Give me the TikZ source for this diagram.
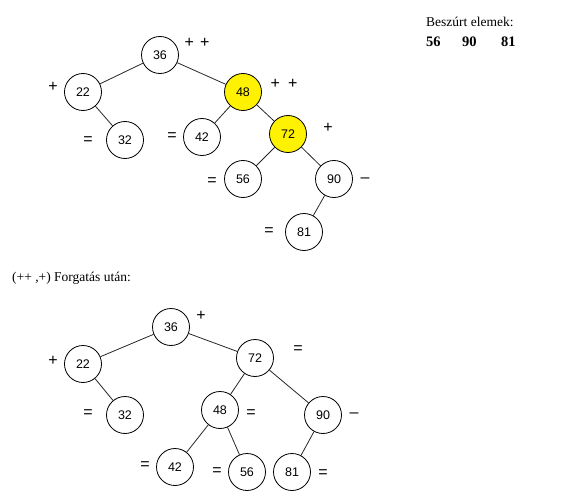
\documentclass[tikz,border=0pt]{standalone}
\usepackage{fontspec}
\setmainfont{Liberation Serif}
\newfontfamily\nodefont{Liberation Sans}
\begin{document}
\begin{tikzpicture}[x=1pt,y=-1pt,
  nd/.style={circle,draw=black,line width=0.8pt,minimum size=37pt,inner sep=0pt,fill=white,font=\nodefont\fontsize{12.5}{13}\selectfont},
  hl/.style={nd,fill=yellow},
  lbl/.style={inner sep=0pt,font=\nodefont\fontsize{16}{17}\selectfont},
  edge/.style={line width=0.8pt,draw=black!85}]
\useasboundingbox (0,0) rectangle (579,503);
% top tree
\node[nd] (a36) at (160,55) {36};
\node[nd] (a22) at (83,92) {22};
\node[hl] (a48) at (243,92) {48};
\node[nd] (a32) at (125,140) {32};
\node[nd] (a42) at (202,137) {42};
\node[hl] (a72) at (288,134) {72};
\node[nd] (a56) at (243,179) {56};
\node[nd] (a90) at (334,179) {90};
\node[nd] (a81) at (304,232) {81};
\draw[edge] (a36) -- (a22);
\draw[edge] (a36) -- (a48);
\draw[edge] (a22) -- (a32);
\draw[edge] (a48) -- (a42);
\draw[edge] (a48) -- (a72);
\draw[edge] (a72) -- (a56);
\draw[edge] (a72) -- (a90);
\draw[edge] (a90) -- (a81);
\node[lbl] (la36) at (197,43) {+\hspace{6pt}+};
\node[lbl] (la22) at (53,87) {+};
\node[lbl] (la48) at (284,84) {+\hspace{8pt}+};
\node[lbl] (la32) at (88,141) {=};
\node[lbl] (la42) at (172,137) {=};
\node[lbl] (la72) at (328,128) {+};
\node[lbl] (la56) at (212,182) {=};
\node[lbl] (la90) at (365,180) {–};
\node[lbl] (la81) at (269,232) {=};
% inserted
\node[anchor=west,inner sep=0pt,font=\fontsize{13.5}{15}\selectfont] (ins) at (426,22) {Beszúrt elemek:};
\node[anchor=west,inner sep=0pt,font=\bfseries\fontsize{14.5}{16}\selectfont] (i56) at (426,42) {56};
\node[anchor=west,inner sep=0pt,font=\bfseries\fontsize{14.5}{16}\selectfont] (i90) at (462,42) {90};
\node[anchor=west,inner sep=0pt,font=\bfseries\fontsize{14.5}{16}\selectfont] (i81) at (501,42) {81};
\node[anchor=west,inner sep=0pt,font=\fontsize{13.5}{15}\selectfont] (cap) at (12,278) {(++ ,+) Forgatás után:};
% bottom tree
\node[nd] (b36) at (171,327) {36};
\node[nd] (b22) at (83,364) {22};
\node[nd] (b72) at (255,358) {72};
\node[nd] (b32) at (125,415) {32};
\node[nd] (b48) at (220,410) {48};
\node[nd] (b90) at (323,415) {90};
\node[nd] (b42) at (175,467) {42};
\node[nd] (b56) at (247,472) {56};
\node[nd] (b81) at (292,472) {81};
\draw[edge] (b36) -- (b22);
\draw[edge] (b36) -- (b72);
\draw[edge] (b22) -- (b32);
\draw[edge] (b72) -- (b48);
\draw[edge] (b72) -- (b90);
\draw[edge] (b48) -- (b42);
\draw[edge] (b48) -- (b56);
\draw[edge] (b90) -- (b81);
\node[lbl] (lb36) at (201,316) {+};
\node[lbl] (lb22) at (53,361) {+};
\node[lbl] (lb72) at (298,350) {=};
\node[lbl] (lb32) at (88,414) {=};
\node[lbl] (lb48) at (251,414) {=};
\node[lbl] (lb90) at (354,415) {–};
\node[lbl] (lb42) at (145,466) {=};
\node[lbl] (lb56) at (217,472) {=};
\node[lbl] (lb81) at (323,474) {=};
\end{tikzpicture}
\end{document}
